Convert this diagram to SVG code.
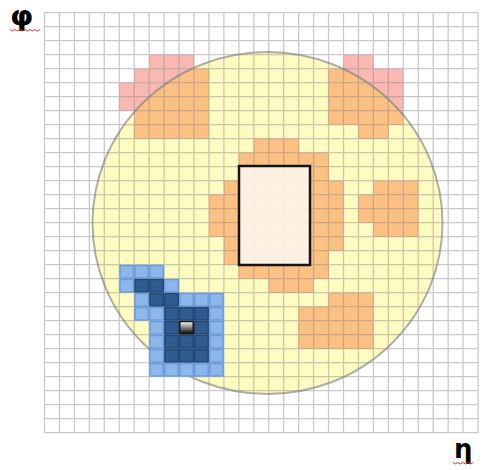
<svg xmlns="http://www.w3.org/2000/svg" width="483" height="470" viewBox="0 0 483 470">
<defs>
<style>
.grid{fill:none;stroke:#8a8a8a;stroke-opacity:0.45;stroke-width:1.3;vector-effect:non-scaling-stroke}
.lb{fill:#8DB6EA;stroke:#6C9BDC;stroke-width:1.5;vector-effect:non-scaling-stroke}
.db{fill:#2F5B8E;stroke:#234879;stroke-width:1.5;vector-effect:non-scaling-stroke}
.gr{fill:url(#gfill);stroke:#1a1a1a;stroke-width:1.5;vector-effect:non-scaling-stroke}
.lbl{font-family:"DejaVu Sans","Liberation Sans",sans-serif;font-weight:bold;fill:#000}
.squig{fill:none;stroke:#E8392E;stroke-width:1}
</style>
<linearGradient id="gfill" x1="0" y1="0" x2="0" y2="1">
<stop offset="0" stop-color="#ffffff"/>
<stop offset="1" stop-color="#000000"/>
</linearGradient>
<clipPath id="circ" clipPathUnits="userSpaceOnUse">
<ellipse cx="267.5" cy="223" rx="175" ry="171"/>
</clipPath>
<g id="hot">
<rect x="7" y="3" width="3" height="1"/>
<rect x="6" y="4" width="5" height="1"/>
<rect x="5" y="5" width="6" height="2"/>
<rect x="6" y="7" width="5" height="2"/>
<rect x="20" y="3" width="2" height="1"/>
<rect x="19" y="4" width="5" height="4"/>
<rect x="21" y="8" width="2" height="1"/>
<rect x="14" y="9" width="3" height="1"/>
<rect x="13" y="10" width="6" height="9"/>
<rect x="12" y="12" width="1" height="6"/>
<rect x="11" y="13" width="1" height="3"/>
<rect x="19" y="12" width="1" height="5"/>
<rect x="15" y="19" width="3" height="1"/>
<rect x="22" y="12" width="3" height="1"/>
<rect x="21" y="13" width="4" height="2"/>
<rect x="22" y="15" width="3" height="1"/>
<rect x="19" y="20" width="3" height="1"/>
<rect x="17" y="21" width="5" height="3"/>
</g>
</defs>
<rect x="0" y="0" width="483" height="470" fill="#ffffff"/>
<ellipse id="disc" cx="267.5" cy="223" rx="175" ry="171" fill="#FFFCC2"/>
<g id="hotcells" transform="translate(44.5,12.7) scale(14.95,14)">
<use href="#hot" fill="#F9B9B2"/>
</g>
<g clip-path="url(#circ)">
<g transform="translate(44.5,12.7) scale(14.95,14)">
<use href="#hot" fill="#FCC082"/>
</g>
</g>
<g id="grid" transform="translate(44.5,12.7) scale(14.95,14)">
<path class="grid" d="M0,0V30M1,0V30M2,0V30M3,0V30M4,0V30M5,0V30M6,0V30M7,0V30M8,0V30M9,0V30M10,0V30M11,0V30M12,0V30M13,0V30M14,0V30M15,0V30M16,0V30M17,0V30M18,0V30M19,0V30M20,0V30M21,0V30M22,0V30M23,0V30M24,0V30M25,0V30M26,0V30M27,0V30M28,0V30M29,0V30
M0,0H29M0,1H29M0,2H29M0,3H29M0,4H29M0,5H29M0,6H29M0,7H29M0,8H29M0,9H29M0,10H29M0,11H29M0,12H29M0,13H29M0,14H29M0,15H29M0,16H29M0,17H29M0,18H29M0,19H29M0,20H29M0,21H29M0,22H29M0,23H29M0,24H29M0,25H29M0,26H29M0,27H29M0,28H29M0,29H29M0,30H29"/>
</g>
<ellipse id="disc-edge" cx="267.5" cy="223" rx="175" ry="171" fill="none" stroke="#7a7a7a" stroke-opacity="0.6" stroke-width="2"/>
<rect id="box" x="239" y="166" width="71" height="99" fill="#FFF7EF" fill-opacity="0.88" stroke="#141414" stroke-width="2.5"/>
<g id="blue" transform="translate(44.5,12.7) scale(14.95,14)">
<rect class="lb" x="5.05" y="18.05" width="0.9" height="0.9"/>
<rect class="lb" x="6.05" y="18.05" width="0.9" height="0.9"/>
<rect class="lb" x="7.05" y="18.05" width="0.9" height="0.9"/>
<rect class="lb" x="5.05" y="19.05" width="0.9" height="0.9"/>
<rect class="db" x="6.05" y="19.05" width="0.9" height="0.9"/>
<rect class="db" x="7.05" y="19.05" width="0.9" height="0.9"/>
<rect class="lb" x="8.05" y="19.05" width="0.9" height="0.9"/>
<rect class="lb" x="6.05" y="20.05" width="0.9" height="0.9"/>
<rect class="db" x="7.05" y="20.05" width="0.9" height="0.9"/>
<rect class="db" x="8.05" y="20.05" width="0.9" height="0.9"/>
<rect class="lb" x="9.05" y="20.05" width="0.9" height="0.9"/>
<rect class="lb" x="10.05" y="20.05" width="0.9" height="0.9"/>
<rect class="lb" x="11.05" y="20.05" width="0.9" height="0.9"/>
<rect class="lb" x="6.05" y="21.05" width="0.9" height="0.9"/>
<rect class="lb" x="7.05" y="21.05" width="0.9" height="0.9"/>
<rect class="db" x="8.05" y="21.05" width="0.9" height="0.9"/>
<rect class="db" x="9.05" y="21.05" width="0.9" height="0.9"/>
<rect class="db" x="10.05" y="21.05" width="0.9" height="0.9"/>
<rect class="lb" x="11.05" y="21.05" width="0.9" height="0.9"/>
<rect class="lb" x="7.05" y="22.05" width="0.9" height="0.9"/>
<rect class="db" x="8.05" y="22.05" width="0.9" height="0.9"/>
<rect class="gr" x="9.05" y="22.05" width="0.9" height="0.9"/>
<rect class="db" x="10.05" y="22.05" width="0.9" height="0.9"/>
<rect class="lb" x="11.05" y="22.05" width="0.9" height="0.9"/>
<rect class="lb" x="7.05" y="23.05" width="0.9" height="0.9"/>
<rect class="db" x="8.05" y="23.05" width="0.9" height="0.9"/>
<rect class="db" x="9.05" y="23.05" width="0.9" height="0.9"/>
<rect class="db" x="10.05" y="23.05" width="0.9" height="0.9"/>
<rect class="lb" x="11.05" y="23.05" width="0.9" height="0.9"/>
<rect class="lb" x="7.05" y="24.05" width="0.9" height="0.9"/>
<rect class="db" x="8.05" y="24.05" width="0.9" height="0.9"/>
<rect class="db" x="9.05" y="24.05" width="0.9" height="0.9"/>
<rect class="db" x="10.05" y="24.05" width="0.9" height="0.9"/>
<rect class="lb" x="11.05" y="24.05" width="0.9" height="0.9"/>
<rect class="lb" x="7.05" y="25.05" width="0.9" height="0.9"/>
<rect class="lb" x="8.05" y="25.05" width="0.9" height="0.9"/>
<rect class="lb" x="9.05" y="25.05" width="0.9" height="0.9"/>
<rect class="lb" x="10.05" y="25.05" width="0.9" height="0.9"/>
<rect class="lb" x="11.05" y="25.05" width="0.9" height="0.9"/>
</g>
<g id="labels">
<text class="lbl" x="10" y="25" font-size="26" transform="translate(10,25) scale(1.15,1) translate(-10,-25)">φ</text>
<path class="squig" d="M10,29.5l2.5,1.5l2.5,-1.5l2.5,1.5l2.5,-1.5l2.5,1.5l2.5,-1.5l2.5,1.5l2.5,-1.5l2.5,1.5l2.5,-1.5l2.5,1.5l2.5,-1.5"/>
<text class="lbl" x="454" y="458" font-size="26">η</text>
<path class="squig" d="M453,462.5l2.5,1.5l2.5,-1.5l2.5,1.5l2.5,-1.5l2.5,1.5l2.5,-1.5l2.5,1.5l2.5,-1.5"/>
</g>
</svg>
